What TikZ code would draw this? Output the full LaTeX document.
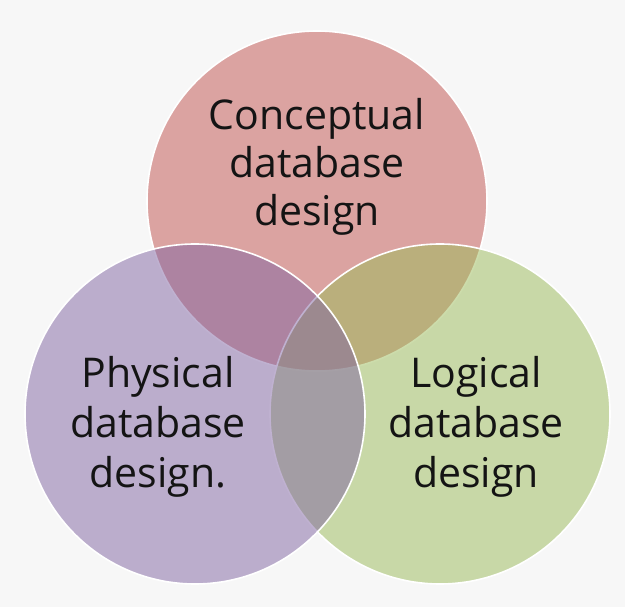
\documentclass[tikz,border=0pt]{standalone}
\usepackage{fontspec}
\setmainfont{Open Sans}
\usepackage{xcolor}
\usepackage{tikz}
\definecolor{ink}{HTML}{141414}
\definecolor{paper}{HTML}{F7F7F7}
\definecolor{concept}{HTML}{C0504D}
\definecolor{logic}{HTML}{9BBB59}
\definecolor{phys}{HTML}{8064A2}

\begin{document}
\begin{tikzpicture}[x=1pt,y=-1pt,
  set/.style={circle,draw=white,line width=1.6pt,fill opacity=0.5,minimum size=340pt,inner sep=0pt},
  caption/.style={font=\fontsize{41}{50}\selectfont,align=center,text=ink,inner sep=0pt}
]
\fill[paper] (0,0) rectangle (625,607);
\useasboundingbox (0,0) rectangle (625,607);
\node[set,fill=concept] (conceptual) at (317,201) {};
\node[set,fill=logic] (logical) at (440,414) {};
\node[set,fill=phys] (physical) at (195,414) {};
\node[caption,font=\fontsize{41}{48}\selectfont] (conceptualtext) at (317,167) {Conceptual\\database\\design};
\node[caption] (physicaltext) at (158,427) {Physical\\database\\design.};
\node[caption] (logicaltext) at (476,427) {Logical\\database\\design};
\end{tikzpicture}
\end{document}
